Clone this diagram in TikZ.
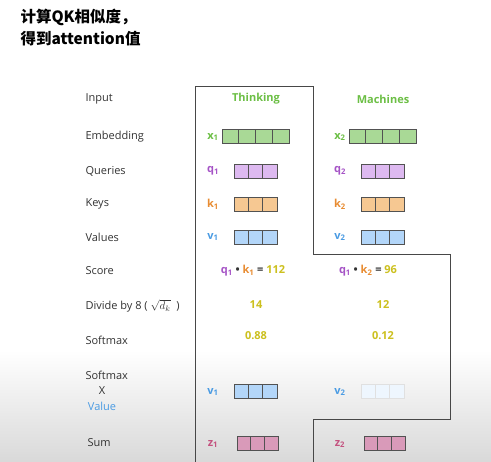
\documentclass[tikz,border=0pt]{standalone}
\usepackage{fontspec}
\setmainfont{Open Sans}
\newfontfamily\cjk{Noto Sans CJK SC}
\usetikzlibrary{positioning}
\definecolor{Leaf}{HTML}{6CBF45}
\definecolor{LeafFill}{HTML}{A9D996}
\definecolor{Plum}{HTML}{A553C6}
\definecolor{PlumFill}{HTML}{DDB9F0}
\definecolor{Amber}{HTML}{E88C32}
\definecolor{AmberFill}{HTML}{F6C892}
\definecolor{Sky}{HTML}{4A9BE3}
\definecolor{SkyFill}{HTML}{B3D6F9}
\definecolor{Rose}{HTML}{C4527F}
\definecolor{RoseFill}{HTML}{D99AB9}
\definecolor{Olive}{HTML}{CCC01E}
\definecolor{Ink}{HTML}{333333}

\begin{document}
\begin{tikzpicture}[x=1pt,y=-1pt,
  rowlab/.style={anchor=west,font=\fontsize{11}{13}\selectfont,text=Ink},
  sub/.style={font=\bfseries\fontsize{11}{13}\selectfont,text=#1},
  num/.style={font=\bfseries\fontsize{11}{13}\selectfont,text=Olive},
  cell/.style={draw=Ink!85,minimum height=14pt,inner sep=0pt,line width=0.7pt}]
  \useasboundingbox (0,0) rectangle (491,462);
  \fill[white] (0,0) rectangle (491,462);
  \shade[top color=white,bottom color=black!15] (0,350) rectangle (491,462);
  % title
  \node[anchor=west,font=\cjk\bfseries\fontsize{15.5}{17}\selectfont] (title1) at (17,17) {计算QK相似度，};
  \node[anchor=west,font=\cjk\bfseries\fontsize{15.5}{17}\selectfont] (title2) at (17,39) {得到attention值};
  % highlight outline
  \draw[Ink!90,line width=1pt] (195,462) -- (195,87) -- (313,87) -- (313,255) -- (450,255)
    -- (450,420) -- (313,420) -- (313,462);
  % row labels
  \node[rowlab] (lInput) at (82,99) {Input};
  \node[rowlab] (lEmbed) at (82,137) {Embedding};
  \node[rowlab] (lQuery) at (82,171) {Queries};
  \node[rowlab] (lKey) at (82,204) {Keys};
  \node[rowlab] (lValue) at (82,237) {Values};
  \node[rowlab] (lScore) at (82,271) {Score};
  \node[rowlab] (lDivide) at (82,306) {Divide by 8 ( $\sqrt{d_k}$ \ )};
  \node[rowlab] (lSoft) at (82,340) {Softmax};
  \node[rowlab] (lSoftX) at (82,375) {Softmax};
  \node[font=\fontsize{11}{13}\selectfont,text=Ink] (lX) at (102,391) {X};
  \node[font=\fontsize{11}{13}\selectfont,text=Sky] (lVal) at (102,406) {Value};
  \node[rowlab] (lSum) at (84,443) {Sum};
  % words
  \node[sub=Leaf] (w1) at (256,99) {Thinking};
  \node[sub=Leaf] (w2) at (383,99) {Machines};
  \foreach \n/\dx in {1/0,2/127}{
    \foreach \i in {0,...,3}
      \node[cell,fill=LeafFill,minimum width=16.75pt] (x\n c\i) at ({230.4+\dx+16.75*\i},136) {};
    \node[sub=Leaf] (x\n) at ({213+\dx},137) {x\textsubscript{\n}};
    \foreach \r/\y/\tc/\fc in {q/171/Plum/PlumFill,k/204/Amber/AmberFill,v/237/Sky/SkyFill}{
      \foreach \i in {0,1,2}
        \node[cell,fill=\fc,minimum width=14.3pt] (\r\n c\i) at ({241.2+\dx+14.3*\i},\y) {};
      \node[sub=\tc] (\r\n) at ({213+\dx},\y) {\r\textsubscript{\n}};
    }
    \foreach \i in {0,1,2}
      \node[cell,fill=RoseFill,minimum width=13.7pt] (z\n c\i) at ({243.8+\dx+13.7*\i},443) {};
    \node[sub=Rose] (z\n) at ({213+\dx},444) {z\textsubscript{\n}};
  }
  % scores
  \node[sub=Ink] (s1) at (253,271) {\textcolor{Plum}{q\textsubscript{1}} \textbullet\ \textcolor{Amber}{k\textsubscript{1}} = \textcolor{Olive}{112}};
  \node[sub=Ink] (s2) at (368,271) {\textcolor{Plum}{q\textsubscript{1}} \textbullet\ \textcolor{Amber}{k\textsubscript{2}} = \textcolor{Olive}{96}};
  \node[num] (d1) at (256,305) {14};
  \node[num] (d2) at (383,305) {12};
  \node[num] (p1) at (256,336) {0.88};
  \node[num] (p2) at (383,336) {0.12};
  % weighted values
  \foreach \i in {0,1,2}{
    \node[cell,fill=SkyFill,minimum width=14.3pt] (wv1c\i) at ({241.2+14.3*\i},391) {};
    \node[cell,draw=black!12,fill=SkyFill!22,minimum width=14.3pt] (wv2c\i) at ({368.2+14.3*\i},391) {};
  }
  \node[sub=Sky] (wv1) at (213,392) {v\textsubscript{1}};
  \node[sub=Sky] (wv2) at (340,392) {v\textsubscript{2}};
\end{tikzpicture}
\end{document}
